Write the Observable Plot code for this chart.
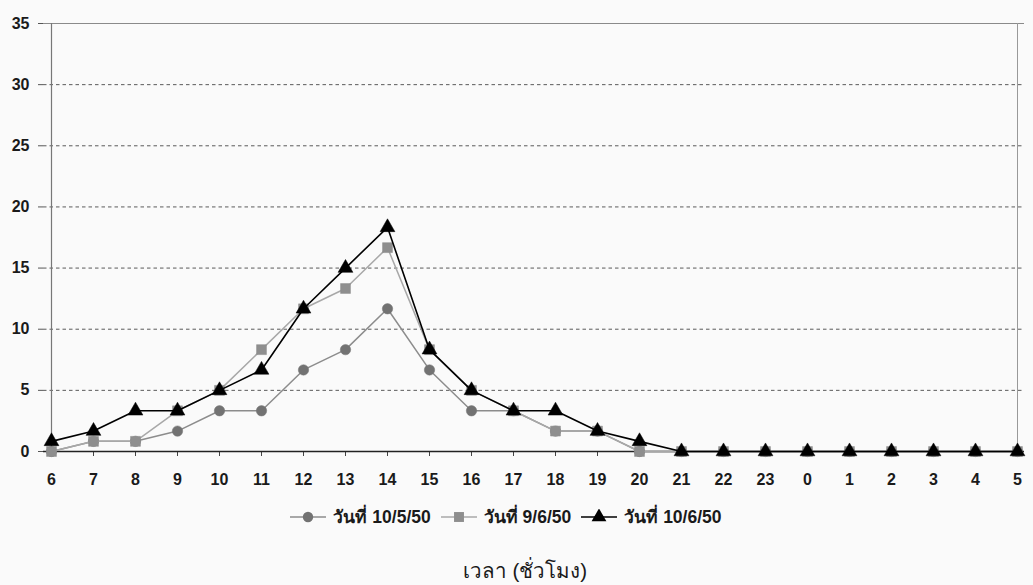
<!DOCTYPE html>
<html>
<head>
<meta charset="utf-8">
<script src="https://cdn.jsdelivr.net/npm/d3@7"></script>
<script src="https://cdn.jsdelivr.net/npm/@observablehq/plot@0.6"></script>
<style>
  html, body { margin: 0; padding: 0; background: #fafafa; }
  #wrap { position: relative; width: 1033px; height: 585px; overflow: hidden; background: #fafafa;
          font-family: "Liberation Sans", Arial, "Noto Sans", sans-serif; }
  #chart { position: absolute; left: 0; top: 0; }
  #legend { position: absolute; left: 0; top: 503px; width: 1022px; display: flex; justify-content: center;
            align-items: center; font-weight: bold; font-size: 17.5px; color: #1a1a1a; }
  #legend .item { display: flex; align-items: center; margin-right: 10px; }
  #legend svg { margin-right: 7px; }
  #title { position: absolute; left: 0; top: 554px; width: 1050px; text-align: center; font-size: 20.5px; color: #1a1a1a; }
</style>
</head>
<body>
<div id="wrap">
  <div id="chart"></div>
  <div id="legend"></div>
  <div id="title"></div>
</div>
<script>
// ---- data ----
const hours = ["6","7","8","9","10","11","12","13","14","15","16","17","18","19","20","21","22","23","0","1","2","3","4","5"];
const seriesNames = ["วันที่ 10/5/50", "วันที่ 9/6/50", "วันที่ 10/6/50"];
const s1 = [0, 0.83, 0.83, 1.67, 3.33, 3.33, 6.67, 8.33, 11.67, 6.67, 3.33, 3.33, 1.67, 1.67, 0, 0, 0, 0, 0, 0, 0, 0, 0, 0];
const s2 = [0, 0.83, 0.83, 3.33, 5, 8.33, 11.67, 13.33, 16.67, 8.33, 5, 3.33, 1.67, 1.67, 0, 0, 0, 0, 0, 0, 0, 0, 0, 0];
const s3 = [0.83, 1.67, 3.33, 3.33, 5, 6.67, 11.67, 15, 18.33, 8.33, 5, 3.33, 3.33, 1.67, 0.83, 0, 0, 0, 0, 0, 0, 0, 0, 0];
const yTicks = [0, 5, 10, 15, 20, 25, 30, 35];
const xTitle = "เวลา (ชั่วโมง)";

// ---- styles per series ----
const styles = [
  {symbol: "circle", line: "#8c8c8c", fill: "#727272", r: 5.2},
  {symbol: "square", line: "#a8a8a8", fill: "#8e8e8e", r: 5.6},
  {symbol: "triangle", line: "#000000", fill: "#000000", r: 5.5}
];
const allSeries = [s1, s2, s3];
const rows = allSeries.map((s, k) => hours.map((h, i) => ({h, v: s[i], k})));

const marks = [
  Plot.ruleY(yTicks.filter(d => d > 0 && d < 35), {stroke: "#5a5a5a", strokeDasharray: "3.5,3", strokeWidth: 1}),
  Plot.ruleY([35], {stroke: "#8a8a8a", strokeWidth: 1}),
  Plot.ruleX([hours[hours.length - 1]], {stroke: "#999", strokeWidth: 1}),
  Plot.ruleX([hours[0]], {stroke: "#777", strokeWidth: 1.2}),
  Plot.axisY({ticks: yTicks, tickSize: 5, tickPadding: 9, stroke: "#555"}),
  Plot.axisX({tickSize: 5, tickPadding: 17, stroke: "#444"}),
  Plot.ruleY([0], {stroke: "#222", strokeWidth: 1.3})
];
rows.forEach((d, k) => {
  const st = styles[k];
  marks.push(Plot.line(d, {x: "h", y: "v", stroke: st.line, strokeWidth: k === 2 ? 1.6 : 1.5}));
  marks.push(Plot.dot(d, {x: "h", y: "v", symbol: st.symbol, r: st.r, fill: st.fill, stroke: st.fill, strokeWidth: 0.5}));
});

const chart = Plot.plot({
  width: 1033,
  height: 495,
  marginLeft: 43,
  marginRight: 9,
  marginTop: 23,
  marginBottom: 44,
  style: {background: "transparent", fontFamily: "'Liberation Sans', Arial, sans-serif", fontSize: "16px", fontWeight: "bold", color: "#1a1a1a"},
  x: {type: "point", domain: hours, padding: 0, label: null},
  y: {domain: [0, 35], label: null},
  marks
});
document.getElementById("chart").appendChild(chart);

// ---- legend ----
const legend = d3.select("#legend");
seriesNames.forEach((name, k) => {
  const st = styles[k];
  const item = legend.append("div").attr("class", "item");
  const svg = item.append("svg").attr("width", 36).attr("height", 16);
  svg.append("line").attr("x1", 0).attr("x2", 36).attr("y1", 8).attr("y2", 8)
    .attr("stroke", st.line).attr("stroke-width", 1.5);
  const sym = {circle: d3.symbolCircle, square: d3.symbolSquare, triangle: d3.symbolTriangle}[st.symbol];
  svg.append("path").attr("transform", "translate(18,8)")
    .attr("d", d3.symbol(sym, Math.PI * st.r * st.r)())
    .attr("fill", st.fill);
  item.append("span").text(name);
});
document.getElementById("title").textContent = xTitle;
</script>
</body>
</html>
